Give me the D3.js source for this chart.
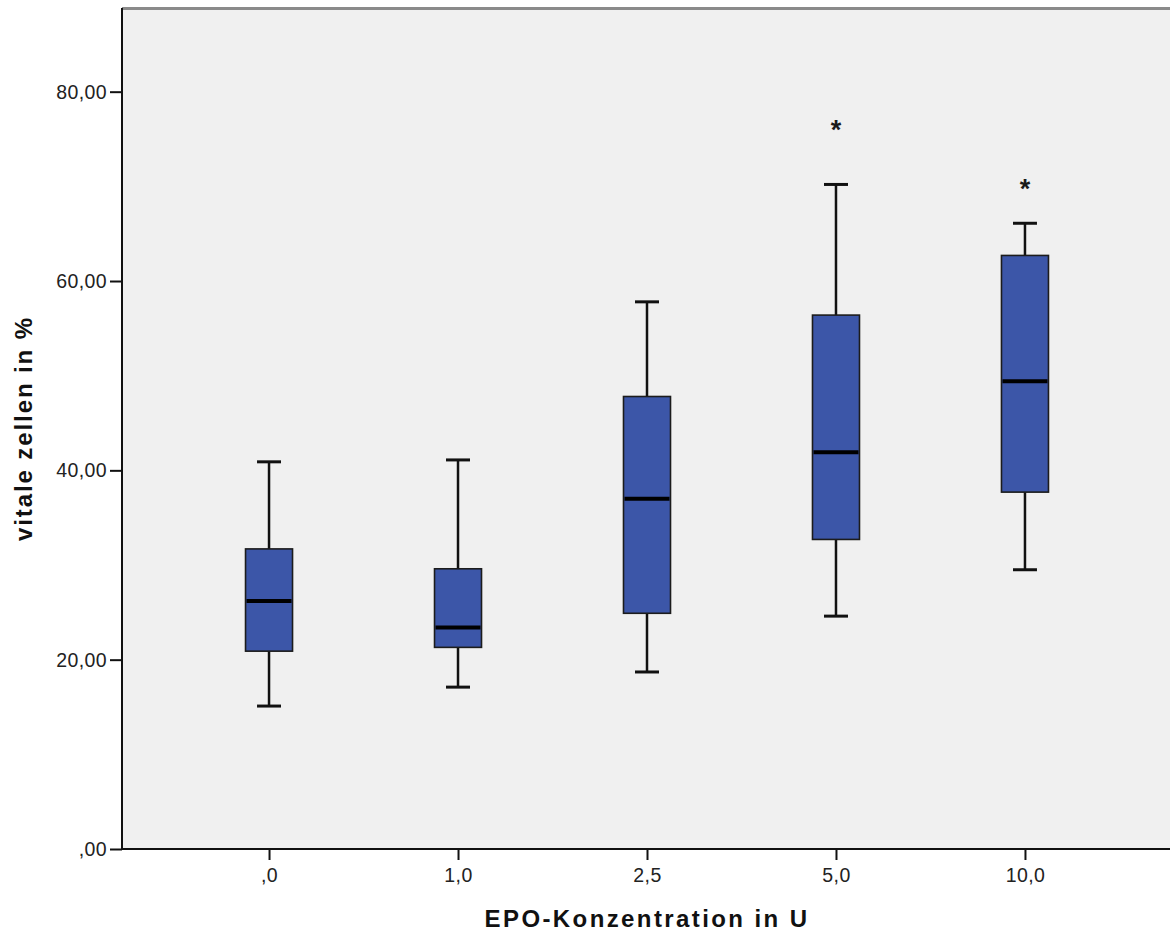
<!DOCTYPE html>
<html>
<head>
<meta charset="utf-8">
<script src="https://cdn.jsdelivr.net/npm/d3@7"></script>
<style>
  html, body { margin: 0; padding: 0; background: #ffffff; }
  svg { display: block; }
  .tick text { font-family: "Liberation Sans", Arial, sans-serif; fill: #222; letter-spacing: 0.4px; }
</style>
</head>
<body>
<svg id="chart" width="1170" height="936"></svg>
<script>
// EPO concentration groups and five-number summaries of viable cells (%)
const categories  = [",0", "1,0", "2,5", "5,0", "10,0"];
const whiskerLow  = [15.1, 17.1, 18.7, 24.6, 29.5];
const q1          = [20.9, 21.3, 24.9, 32.7, 37.7];
const median      = [26.2, 23.4, 37.0, 41.9, 49.4];
const q3          = [31.7, 29.6, 47.8, 56.4, 62.7];
const whiskerHigh = [40.9, 41.1, 57.8, 70.2, 66.1];

// extreme values (drawn as asterisks)
const extremeCats   = ["5,0", "10,0"];
const extremeValues = [76.5, 70.2];

// value axis ticks and their labels
const yTickValues = [0, 20, 40, 60, 80];
const yTickLabels = [",00", "20,00", "40,00", "60,00", "80,00"];

const xTitle = "EPO-Konzentration in U";
const yTitle = "vitale zellen in %";

const svg = d3.select("#chart");
const plot = { left: 122, right: 1170, top: 8, bottom: 849 };

const x = d3.scalePoint()
  .domain(categories)
  .range([plot.left, plot.right + 2])
  .padding(0.778);

const y = d3.scaleLinear()
  .domain([0, 88.84])
  .range([plot.bottom, plot.top]);

const boxWidth = 47;
const capWidth = 24;

// plot background
svg.append("rect")
  .attr("x", plot.left).attr("y", plot.top)
  .attr("width", plot.right - plot.left)
  .attr("height", plot.bottom - plot.top)
  .attr("fill", "#f0f0f0");

// top frame line
svg.append("line")
  .attr("x1", plot.left).attr("x2", plot.right)
  .attr("y1", plot.top + 0.5).attr("y2", plot.top + 0.5)
  .attr("stroke", "#8a8a8a").attr("stroke-width", 3);

// boxplots
const rows = categories.map((c, i) => ({
  cat: c, lo: whiskerLow[i], q1: q1[i], med: median[i], q3: q3[i], hi: whiskerHigh[i]
}));

const g = svg.append("g");
const box = g.selectAll("g.box").data(rows).join("g").attr("class", "box");

// whisker stems
box.append("line")
  .attr("x1", d => x(d.cat)).attr("x2", d => x(d.cat))
  .attr("y1", d => y(d.hi)).attr("y2", d => y(d.q3))
  .attr("stroke", "#111").attr("stroke-width", 2.5);
box.append("line")
  .attr("x1", d => x(d.cat)).attr("x2", d => x(d.cat))
  .attr("y1", d => y(d.q1)).attr("y2", d => y(d.lo))
  .attr("stroke", "#111").attr("stroke-width", 2.5);

// whisker caps
["hi", "lo"].forEach(k => {
  box.append("line")
    .attr("x1", d => x(d.cat) - capWidth / 2).attr("x2", d => x(d.cat) + capWidth / 2)
    .attr("y1", d => y(d[k])).attr("y2", d => y(d[k]))
    .attr("stroke", "#111").attr("stroke-width", 3);
});

// interquartile box
box.append("rect")
  .attr("x", d => x(d.cat) - boxWidth / 2)
  .attr("y", d => y(d.q3))
  .attr("width", boxWidth)
  .attr("height", d => y(d.q1) - y(d.q3))
  .attr("fill", "#3c56a8")
  .attr("stroke", "#1c1c1c").attr("stroke-width", 1.6);

// median
box.append("line")
  .attr("x1", d => x(d.cat) - boxWidth / 2 + 1).attr("x2", d => x(d.cat) + boxWidth / 2 - 1)
  .attr("y1", d => y(d.med)).attr("y2", d => y(d.med))
  .attr("stroke", "#000").attr("stroke-width", 4);

// extreme markers
g.selectAll("text.extreme")
  .data(extremeCats.map((c, i) => ({ cat: c, v: extremeValues[i] })))
  .join("text")
  .attr("class", "extreme")
  .attr("x", d => x(d.cat))
  .attr("y", d => y(d.v) + 14)
  .attr("text-anchor", "middle")
  .attr("font-family", "\"Liberation Sans\", Arial, sans-serif")
  .attr("font-weight", "bold")
  .attr("font-size", 27)
  .attr("fill", "#1a1a1a")
  .text("*");

// y axis
const yAxis = d3.axisLeft(y)
  .tickValues(yTickValues)
  .tickFormat((d, i) => yTickLabels[i])
  .tickSize(12)
  .tickPadding(3);
const yg = svg.append("g").attr("transform", `translate(${plot.left},0)`).call(yAxis);
yg.select(".domain").remove();
yg.selectAll(".tick line").attr("stroke", "#111").attr("stroke-width", 2);
yg.selectAll(".tick text").attr("font-size", 19.5).attr("dy", "0.34em");
yg.append("line")
  .attr("x1", 0).attr("x2", 0)
  .attr("y1", plot.top).attr("y2", plot.bottom + 1)
  .attr("stroke", "#111").attr("stroke-width", 2);

// x axis
const xAxis = d3.axisBottom(x).tickSize(11).tickPadding(8);
const xg = svg.append("g").attr("transform", `translate(0,${plot.bottom})`).call(xAxis);
xg.select(".domain").remove();
xg.selectAll(".tick line").attr("stroke", "#111").attr("stroke-width", 2);
xg.selectAll(".tick text").attr("font-size", 19.5);
xg.append("line")
  .attr("x1", plot.left - 1).attr("x2", plot.right)
  .attr("y1", 0).attr("y2", 0)
  .attr("stroke", "#111").attr("stroke-width", 2);

// axis titles
svg.append("text")
  .attr("x", (plot.left + plot.right + 2) / 2)
  .attr("y", 927)
  .attr("text-anchor", "middle")
  .attr("font-family", "\"Liberation Sans\", Arial, sans-serif")
  .attr("font-weight", "bold")
  .attr("font-size", 24)
  .attr("letter-spacing", "2.4px")
  .attr("fill", "#111")
  .text(xTitle);

svg.append("text")
  .attr("transform", `translate(32,${(plot.top + plot.bottom) / 2}) rotate(-90)`)
  .attr("text-anchor", "middle")
  .attr("font-family", "\"Liberation Sans\", Arial, sans-serif")
  .attr("font-weight", "bold")
  .attr("font-size", 24)
  .attr("letter-spacing", "1.9px")
  .attr("fill", "#111")
  .text(yTitle);
</script>
</body>
</html>
